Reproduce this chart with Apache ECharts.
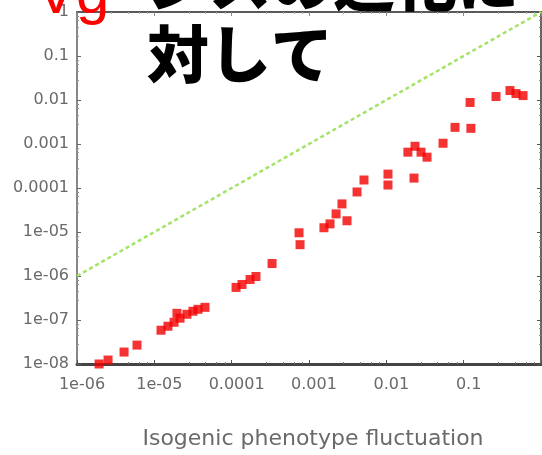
<!DOCTYPE html>
<html>
<head>
<meta charset="utf-8">
<script src="https://cdn.jsdelivr.net/npm/echarts@6/dist/echarts.min.js"></script>
<style>
html,body{margin:0;padding:0;background:#fff;}
#c{width:542px;height:455px;}
</style>
</head>
<body>
<div id="c"></div>
<script>
// Isogenic phenotype fluctuation (Vip) for each point
const vipValues = [1.93e-6, 2.52e-6, 4.06e-6, 5.97e-6, 1.22e-5, 1.50e-5, 1.80e-5, 1.96e-5, 2.15e-5, 2.64e-5,
  3.16e-5, 3.67e-5, 4.52e-5, 1.14e-4, 1.36e-4, 1.73e-4, 2.06e-4, 3.33e-4, 7.43e-4, 7.66e-4,
  1.56e-3, 1.87e-3, 2.24e-3, 2.67e-3, 3.10e-3, 4.18e-3, 5.14e-3, 1.05e-2, 1.05e-2, 2.28e-2,
  1.90e-2, 2.35e-2, 2.81e-2, 3.36e-2, 5.41e-2, 7.73e-2, 0.124, 0.121, 0.262, 0.397, 0.475, 0.586];
// Genetic variance (Vg) for each point
const vgValues = [1.0e-8, 1.23e-8, 1.87e-8, 2.69e-8, 5.86e-8, 7.22e-8, 8.89e-8, 1.42e-7, 1.10e-7, 1.35e-7,
  1.58e-7, 1.75e-7, 1.94e-7, 5.5e-7, 6.42e-7, 8.34e-7, 9.75e-7, 1.92e-6, 9.6e-6, 5.15e-6,
  1.25e-5, 1.53e-5, 2.58e-5, 4.35e-5, 1.80e-5, 8.13e-5, 1.52e-4, 2.07e-4, 1.17e-4, 1.68e-4,
  6.52e-4, 8.89e-4, 6.52e-4, 5.02e-4, 1.04e-3, 2.39e-3, 2.27e-3, 8.79e-3, 1.20e-2, 1.64e-2, 1.40e-2, 1.26e-2];
// Reference line Vg = Vip
const refLineX = [1e-6, 1];
const refLineY = [1e-6, 1];
// Tick labels
const xTickLabels = ['1e-06', '1e-05', '0.0001', '0.001', '0.01', '0.1', '1'];
const yTickLabels = ['1e-08', '1e-07', '1e-06', '1e-05', '0.0001', '0.001', '0.01', '0.1', '1'];
const xAxisTitle = 'Isogenic phenotype fluctuation';
const redLabel = 'Vg';
const titleLine1 = 'ジスの進化に';
const titleLine2 = '対して';

const chart = echarts.init(document.getElementById('c'), null, {renderer: 'canvas'});

const lblFont = 'DejaVu Sans';
function xFmt(v) {
  const e = Math.round(Math.log10(v));
  return xTickLabels[e + 6] || '';
}
function yFmt(v) {
  const e = Math.round(Math.log10(v));
  return yTickLabels[e + 8] || '';
}

const option = {
  animation: false,
  backgroundColor: '#fff',
  grid: {left: 77, right: 1, top: 12, bottom: 89, containLabel: false},
  xAxis: [{
    type: 'log', logBase: 10, min: 1e-6, max: 1, position: 'bottom',
    name: xAxisTitle, nameLocation: 'middle', nameGap: 64,
    nameTextStyle: {fontFamily: lblFont, fontSize: 22, color: '#6a6a6a', padding: [0, 0, 0, 8]},
    axisLine: {show: true, onZero: false, lineStyle: {color: '#444', width: 3}},
    axisTick: {show: true, inside: true, length: 4, lineStyle: {color: '#555', width: 1}},
    minorTick: {show: true, splitNumber: 5, length: 2, lineStyle: {color: '#777'}},
    axisLabel: {formatter: xFmt, fontFamily: lblFont, fontSize: 16, color: '#6a6a6a', margin: 13,
      showMaxLabel: false, padding: [0, 0, 0, 10]},
    splitLine: {show: false}
  }, {
    type: 'log', logBase: 10, min: 1e-6, max: 1, position: 'top',
    axisLine: {show: true, onZero: false, lineStyle: {color: '#5a5a5a', width: 2}},
    axisTick: {show: true, inside: true, length: 4, lineStyle: {color: '#888'}},
    minorTick: {show: true, splitNumber: 5, length: 2, lineStyle: {color: '#aaa'}},
    axisLabel: {show: false},
    splitLine: {show: false}
  }],
  yAxis: [{
    type: 'log', logBase: 10, min: 1e-8, max: 1, position: 'left',
    axisLine: {show: true, onZero: false, lineStyle: {color: '#888', width: 2}},
    axisTick: {show: true, inside: true, length: 4, lineStyle: {color: '#666'}},
    minorTick: {show: true, splitNumber: 5, length: 2, lineStyle: {color: '#999'}},
    axisLabel: {formatter: yFmt, fontFamily: lblFont, fontSize: 16, color: '#6a6a6a', margin: 8},
    splitLine: {show: false}
  }, {
    type: 'log', logBase: 10, min: 1e-8, max: 1, position: 'right',
    axisLine: {show: true, onZero: false, lineStyle: {color: '#666', width: 2}},
    axisTick: {show: true, inside: true, length: 4, lineStyle: {color: '#555'}},
    minorTick: {show: true, splitNumber: 5, length: 2, lineStyle: {color: '#888'}},
    axisLabel: {show: false},
    splitLine: {show: false}
  }],
  series: [{
    type: 'line',
    data: refLineX.map((x, i) => [x, refLineY[i]]),
    showSymbol: false, symbol: 'none',
    lineStyle: {color: '#a3e366', width: 2.5, type: [4, 3]},
    z: 3
  }, {
    type: 'scatter',
    data: vipValues.map((x, i) => [x, vgValues[i]]),
    symbol: 'rect', symbolSize: 9,
    itemStyle: {color: '#f20000'},
    clip: false,
    z: 4
  }],
  graphic: [{
    type: 'text', z: 100,
    style: {text: redLabel, x: 36, y: -4, fill: '#ff0000',
      font: '60px "Liberation Sans"', textVerticalAlign: 'middle', verticalAlign: 'middle'}
  }, {
    type: 'text', z: 100,
    style: {text: titleLine1, x: 147, y: -49, fill: '#000',
      font: '900 62px "Noto Sans CJK JP"', textVerticalAlign: 'top', verticalAlign: 'top'}
  }, {
    type: 'text', z: 100,
    style: {text: titleLine2, x: 147, y: 23, fill: '#000',
      font: '900 62px "Noto Sans CJK JP"', textVerticalAlign: 'top', verticalAlign: 'top'}
  }]
};
chart.setOption(option);
</script>
</body>
</html>
